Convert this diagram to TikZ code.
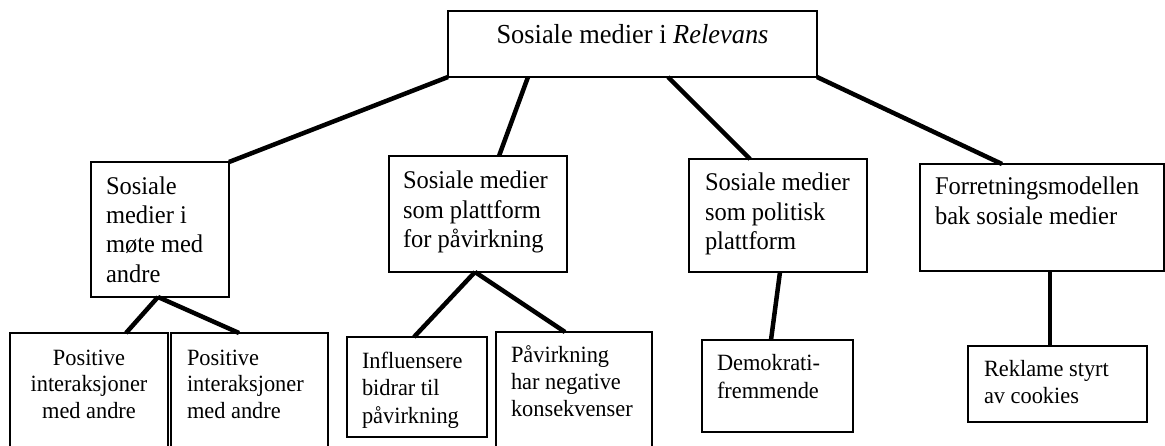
\documentclass[tikz,border=0pt]{standalone}
\usepackage{fontspec}
\setmainfont[FakeStretch=0.96]{Liberation Serif}
\usetikzlibrary{calc}
\begin{document}
\begin{tikzpicture}[x=1pt,y=-1pt,
  box/.style={draw=black, line width=1.2pt, inner sep=0pt, outer sep=0pt, anchor=north west},
  txt/.style={inner sep=0pt, outer sep=0pt, anchor=north west, align=left, font=\fontsize{25.5}{29.3}\selectfont},
  txtb/.style={txt, font=\fontsize{23.3}{#1}\selectfont},
  conn/.style={line width=4.5pt}]
\useasboundingbox (0,0) rectangle (1165,445);
\clip (0,0) rectangle (1165,445);
% boxes
\node[box, minimum width=369pt, minimum height=66pt] (top) at (448,11) {};
\node[box, minimum width=138pt, minimum height=135pt] (A) at (91,162) {};
\node[box, minimum width=178pt, minimum height=116pt] (B) at (389,156) {};
\node[box, minimum width=178pt, minimum height=113pt] (C) at (689,159) {};
\node[box, minimum width=244pt, minimum height=107pt] (D) at (920,164) {};
\node[box, minimum width=158pt, minimum height=130pt] (A1) at (10,333) {};
\node[box, minimum width=157pt, minimum height=130pt] (A2) at (171,333) {};
\node[box, minimum width=140pt, minimum height=100pt] (B1) at (347,337) {};
\node[box, minimum width=156pt, minimum height=130pt] (B2) at (496,332) {};
\node[box, minimum width=151pt, minimum height=92pt] (C1) at (702,340) {};
\node[box, minimum width=179pt, minimum height=76pt] (D1) at (968,346) {};
% texts
\node[inner sep=0pt, anchor=base, font=\fontsize{27.5}{30}\selectfont] (toptext) at (632.5,43.3) {Sosiale medier i \textit{Relevans}};
\node[txt] (Atext) at (106,176.6) {Sosiale\\medier i\\møte med\\andre};
\node[txt] (Btext) at (403,171.3) {Sosiale medier\\som plattform\\for påvirkning};
\node[txt] (Ctext) at (705,173.3) {Sosiale medier\\som politisk\\plattform};
\node[txt] (Dtext) at (935,177.3) {Forretningsmodellen\\bak sosiale medier};
\node[txtb=26.5, anchor=north, align=center] (A1text) at (89,349.9) {Positive\\interaksjoner\\med andre};
\node[txtb=26.5] (A2text) at (187,349.9) {Positive\\interaksjoner\\med andre};
\node[txtb=27.5] (B1text) at (362,351.9) {Influensere\\bidrar til\\påvirkning};
\node[txtb=27.2] (B2text) at (511,345.4) {Påvirkning\\har negative\\konsekvenser};
\node[txtb=28.3] (C1text) at (717,353.9) {Demokrati-\\fremmende};
\node[txtb=26.7] (D1text) at (984,360.6) {Reklame styrt\\av cookies};
% connectors
\draw[conn] (top.south west) -- (A.north east);
\draw[conn] ([xshift=80pt]top.south west) -- ([xshift=110pt]B.north west);
\draw[conn] ([xshift=220pt]top.south west) -- ([xshift=61pt]C.north west);
\draw[conn] (top.south east) -- ([xshift=82pt]D.north west);
\draw[conn] ([xshift=67pt]A.south west) -- ([xshift=116pt]A1.north west);
\draw[conn] ([xshift=67pt]A.south west) -- ([xshift=68pt]A2.north west);
\draw[conn] ([xshift=86pt]B.south west) -- ([xshift=67pt]B1.north west);
\draw[conn] ([xshift=86pt]B.south west) -- ([xshift=69pt]B2.north west);
\draw[conn] ([xshift=91pt]C.south west) -- ([xshift=69pt]C1.north west);
\draw[conn] ([xshift=130pt]D.south west) -- ([xshift=82pt]D1.north west);
\end{tikzpicture}
\end{document}
